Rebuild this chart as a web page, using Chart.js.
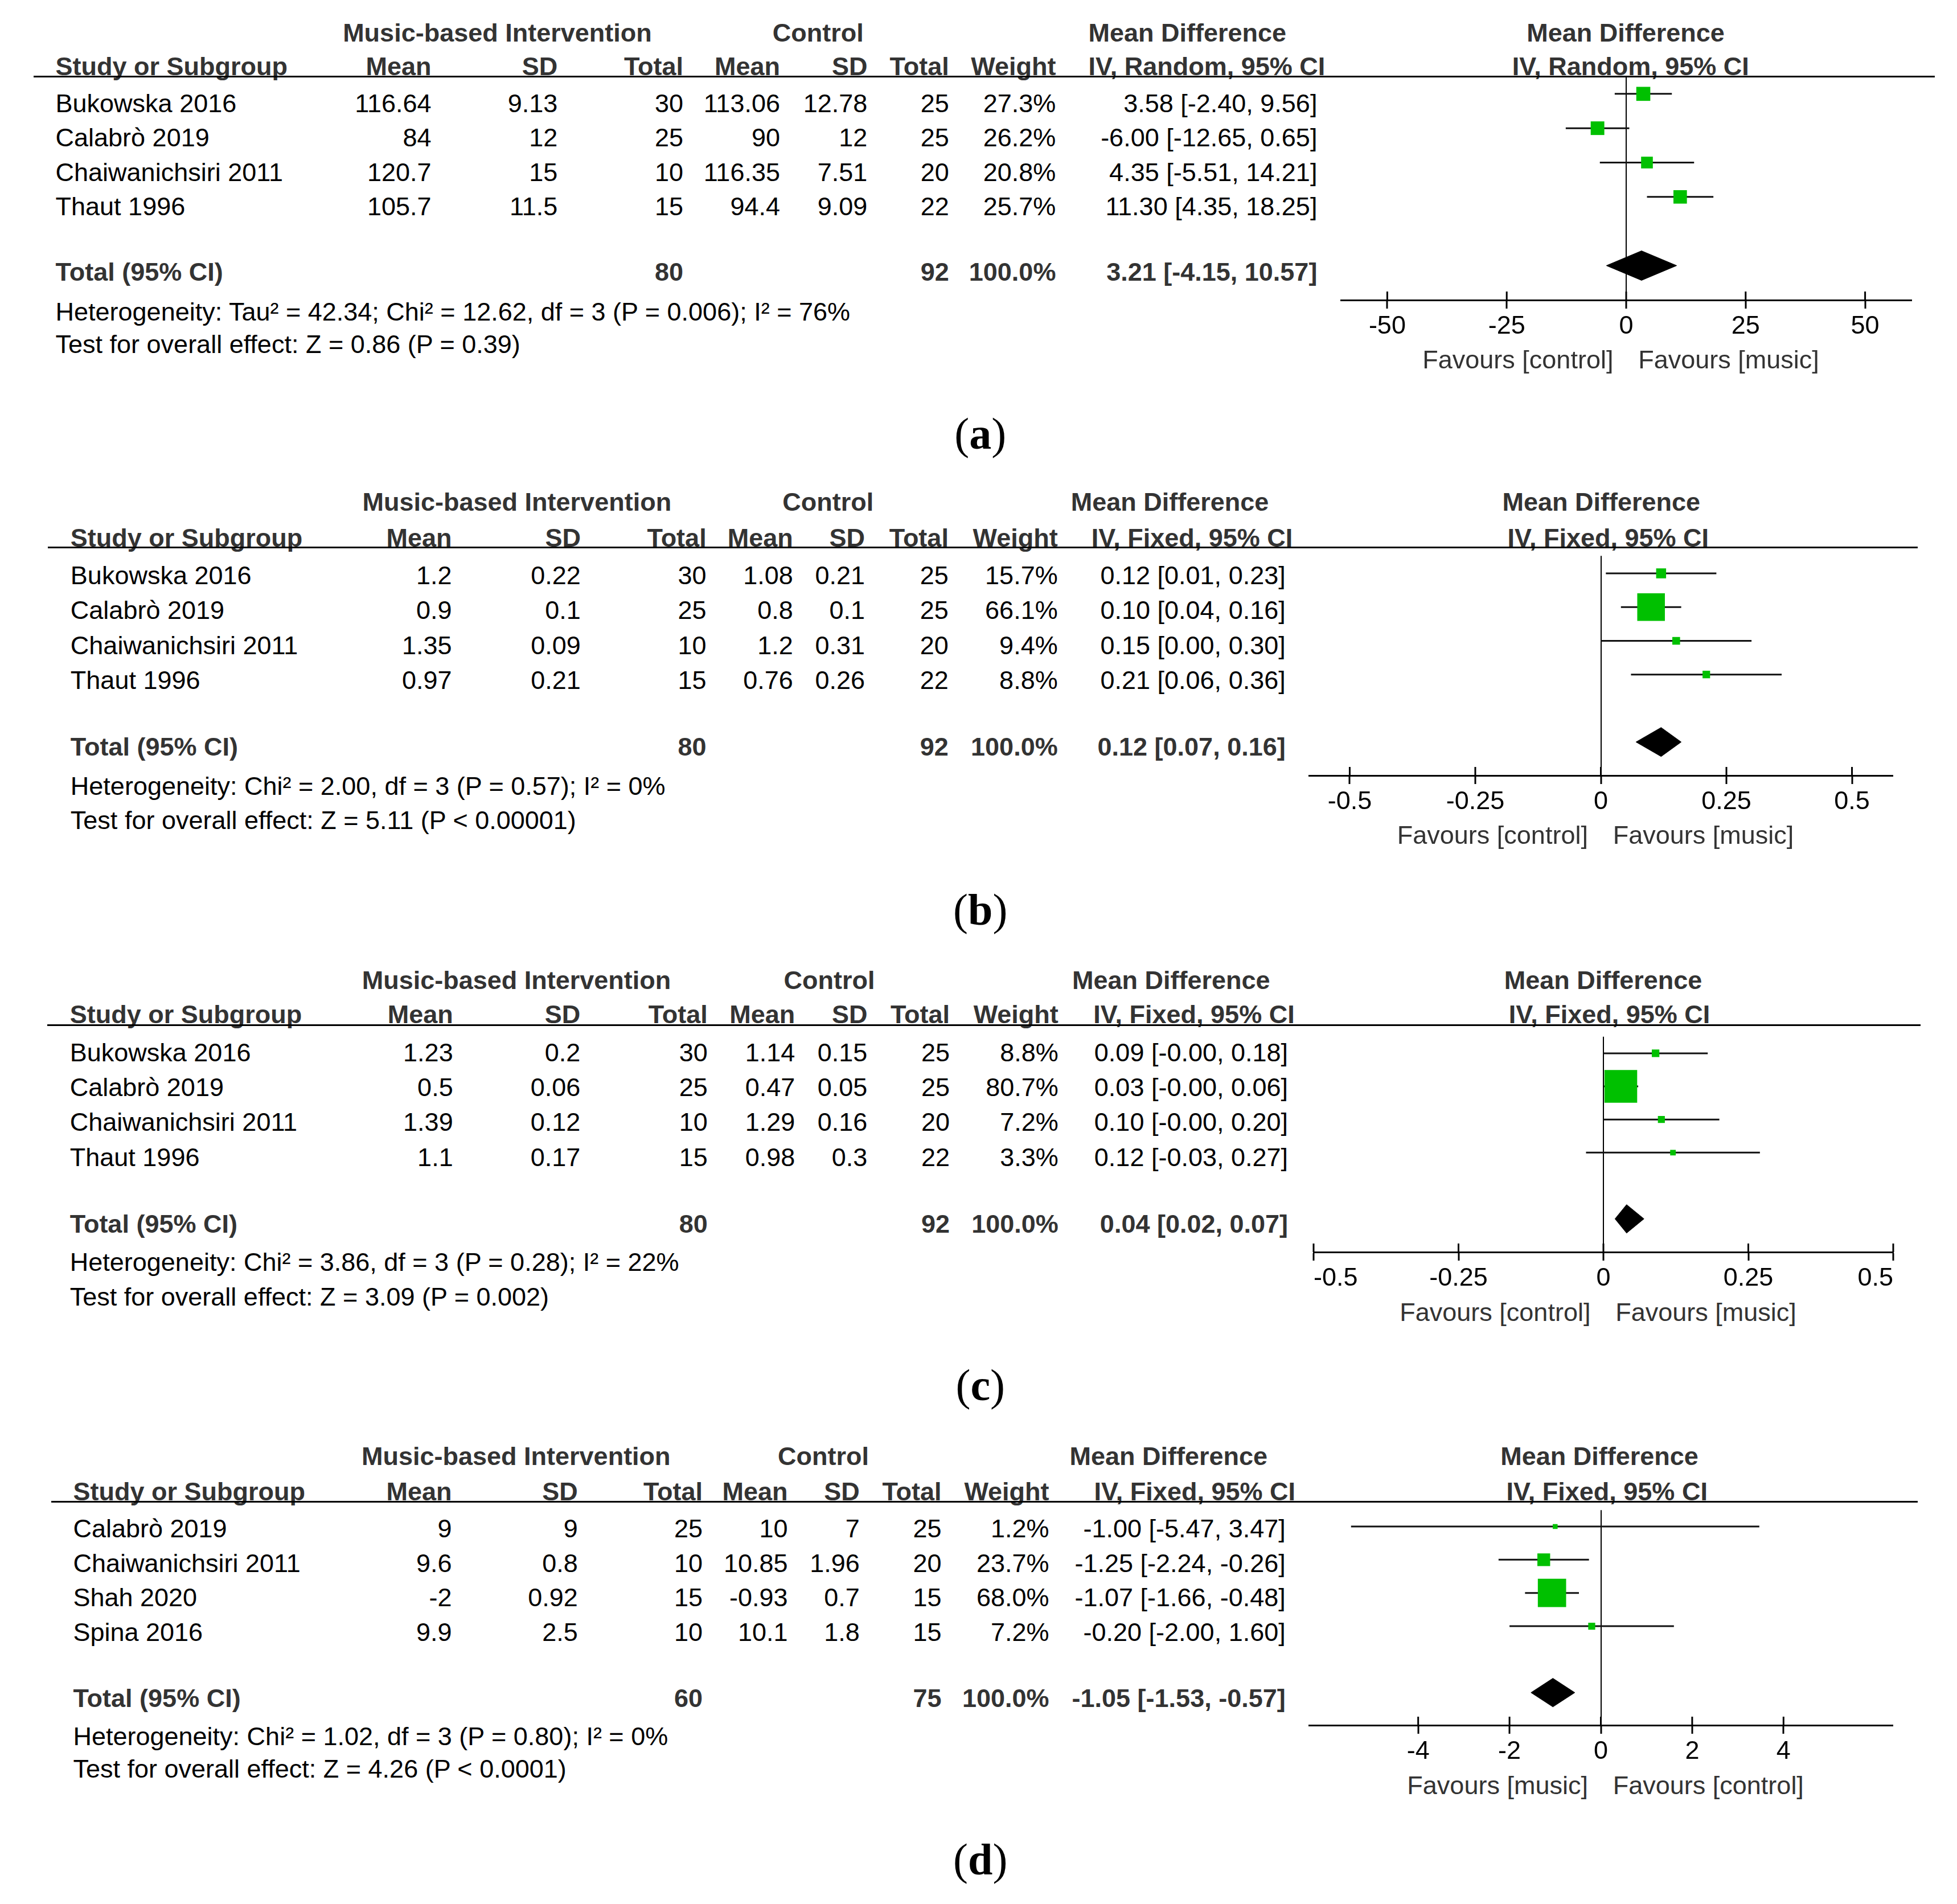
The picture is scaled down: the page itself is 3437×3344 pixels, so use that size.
<!DOCTYPE html>
<html>
<head>
<meta charset="utf-8">
<script src="https://cdn.jsdelivr.net/npm/chart.js@4.4.1/dist/chart.umd.min.js"></script>
<style>
  body { margin: 0; background: #fff; }
  #page { position: relative; width: 3437px; height: 3344px; overflow: hidden; background: #fff; }
  .t { position: absolute; white-space: nowrap; font-family: "Liberation Sans", Arial, sans-serif;
       font-size: 45px; line-height: 45px; color: #000; }
  .b { font-weight: bold; color: #333; }
  .g { color: #333; }
  .rule { position: absolute; height: 3px; background: #000; }
  .lab { position: absolute; white-space: nowrap; font-family: "Liberation Serif", "Times New Roman", serif;
         font-size: 78px; line-height: 78px; color: #000; }
  canvas { position: absolute; }
</style>
</head>
<body>
<div id="page"></div>
<script>
// ---- panel (a) ----
const studiesA = ['Bukowska 2016', 'Calabrò 2019', 'Chaiwanichsiri 2011', 'Thaut 1996'];
const musicMeanA = [116.64, 84, 120.7, 105.7];
const musicSdA = [9.13, 12, 15, 11.5];
const musicNA = [30, 25, 10, 15];
const ctrlMeanA = [113.06, 90, 116.35, 94.4];
const ctrlSdA = [12.78, 12, 7.51, 9.09];
const ctrlNA = [25, 25, 20, 22];
const weightA = [27.3, 26.2, 20.8, 25.7];
const mdA = [3.58, -6.00, 4.35, 11.30];
const loA = [-2.40, -12.65, -5.51, 4.35];
const hiA = [9.56, 0.65, 14.21, 18.25];
const totalNA = [80, 92];
const totalMdA = [3.21, -4.15, 10.57];
const ticksA = [-50, -25, 0, 25, 50];
const favoursA = ['Favours [control]', 'Favours [music]'];
const methodA = 'IV, Random, 95% CI';
const hetA = 'Heterogeneity: Tau² = 42.34; Chi² = 12.62, df = 3 (P = 0.006); I² = 76%';
const testA = 'Test for overall effect: Z = 0.86 (P = 0.39)';

// ---- panel (b) ----
const studiesB = ['Bukowska 2016', 'Calabrò 2019', 'Chaiwanichsiri 2011', 'Thaut 1996'];
const musicMeanB = [1.2, 0.9, 1.35, 0.97];
const musicSdB = [0.22, 0.1, 0.09, 0.21];
const musicNB = [30, 25, 10, 15];
const ctrlMeanB = [1.08, 0.8, 1.2, 0.76];
const ctrlSdB = [0.21, 0.1, 0.31, 0.26];
const ctrlNB = [25, 25, 20, 22];
const weightB = [15.7, 66.1, 9.4, 8.8];
const mdB = [0.12, 0.10, 0.15, 0.21];
const loB = [0.01, 0.04, 0.00, 0.06];
const hiB = [0.23, 0.16, 0.30, 0.36];
const totalNB = [80, 92];
const totalMdB = [0.12, 0.07, 0.16];
const ticksB = [-0.5, -0.25, 0, 0.25, 0.5];
const favoursB = ['Favours [control]', 'Favours [music]'];
const methodB = 'IV, Fixed, 95% CI';
const hetB = 'Heterogeneity: Chi² = 2.00, df = 3 (P = 0.57); I² = 0%';
const testB = 'Test for overall effect: Z = 5.11 (P < 0.00001)';

// ---- panel (c) ----
const studiesC = ['Bukowska 2016', 'Calabrò 2019', 'Chaiwanichsiri 2011', 'Thaut 1996'];
const musicMeanC = [1.23, 0.5, 1.39, 1.1];
const musicSdC = [0.2, 0.06, 0.12, 0.17];
const musicNC = [30, 25, 10, 15];
const ctrlMeanC = [1.14, 0.47, 1.29, 0.98];
const ctrlSdC = [0.15, 0.05, 0.16, 0.3];
const ctrlNC = [25, 25, 20, 22];
const weightC = [8.8, 80.7, 7.2, 3.3];
const mdC = [0.09, 0.03, 0.10, 0.12];
const loC = [-0.00, -0.00, -0.00, -0.03];
const hiC = [0.18, 0.06, 0.20, 0.27];
const totalNC = [80, 92];
const totalMdC = [0.04, 0.02, 0.07];
const ticksC = [-0.5, -0.25, 0, 0.25, 0.5];
const favoursC = ['Favours [control]', 'Favours [music]'];
const methodC = 'IV, Fixed, 95% CI';
const hetC = 'Heterogeneity: Chi² = 3.86, df = 3 (P = 0.28); I² = 22%';
const testC = 'Test for overall effect: Z = 3.09 (P = 0.002)';

// ---- panel (d) ----
const studiesD = ['Calabrò 2019', 'Chaiwanichsiri 2011', 'Shah 2020', 'Spina 2016'];
const musicMeanD = [9, 9.6, -2, 9.9];
const musicSdD = [9, 0.8, 0.92, 2.5];
const musicND = [25, 10, 15, 10];
const ctrlMeanD = [10, 10.85, -0.93, 10.1];
const ctrlSdD = [7, 1.96, 0.7, 1.8];
const ctrlND = [25, 20, 15, 15];
const weightD = [1.2, 23.7, 68.0, 7.2];
const mdD = [-1.00, -1.25, -1.07, -0.20];
const loD = [-5.47, -2.24, -1.66, -2.00];
const hiD = [3.47, -0.26, -0.48, 1.60];
const totalND = [60, 75];
const totalMdD = [-1.05, -1.53, -0.57];
const ticksD = [-4, -2, 0, 2, 4];
const favoursD = ['Favours [music]', 'Favours [control]'];
const methodD = 'IV, Fixed, 95% CI';
const hetD = 'Heterogeneity: Chi² = 1.02, df = 3 (P = 0.80); I² = 0%';
const testD = 'Test for overall effect: Z = 4.26 (P < 0.0001)';

const panels = [
    { label: 'a', studies: studiesA, musicMean: musicMeanA, musicSd: musicSdA, musicN: musicNA,
      ctrlMean: ctrlMeanA, ctrlSd: ctrlSdA, ctrlN: ctrlNA, weight: weightA, md: mdA, lo: loA, hi: hiA,
      totalN: totalNA, totalMd: totalMdA, ticks: ticksA, favours: favoursA, method: methodA, het: hetA, test: testA },
    { label: 'b', studies: studiesB, musicMean: musicMeanB, musicSd: musicSdB, musicN: musicNB,
      ctrlMean: ctrlMeanB, ctrlSd: ctrlSdB, ctrlN: ctrlNB, weight: weightB, md: mdB, lo: loB, hi: hiB,
      totalN: totalNB, totalMd: totalMdB, ticks: ticksB, favours: favoursB, method: methodB, het: hetB, test: testB },
    { label: 'c', studies: studiesC, musicMean: musicMeanC, musicSd: musicSdC, musicN: musicNC,
      ctrlMean: ctrlMeanC, ctrlSd: ctrlSdC, ctrlN: ctrlNC, weight: weightC, md: mdC, lo: loC, hi: hiC,
      totalN: totalNC, totalMd: totalMdC, ticks: ticksC, favours: favoursC, method: methodC, het: hetC, test: testC },
    { label: 'd', studies: studiesD, musicMean: musicMeanD, musicSd: musicSdD, musicN: musicND,
      ctrlMean: ctrlMeanD, ctrlSd: ctrlSdD, ctrlN: ctrlND, weight: weightD, md: mdD, lo: loD, hi: hiD,
      totalN: totalND, totalMd: totalMdD, ticks: ticksD, favours: favoursD, method: methodD, het: hetD, test: testD }
];

// Layout, in units of a 1568 px wide sheet (scaled by S)
const S = 3437 / 1568;
const FS = 45;
const TOTAL_ROW = 5;
const GREEN = '#00c000';

const layouts = [
    { hl: 61.5, r0: 75.1, gap: 27.5, ay: 240.2, h1: 26, h2: 53, het: 249.5, test: 275.7, label: 351,
      ruleL: 26.8, ruleR: 1550, axis: { al: 1074.2, ar: 1531.2, min: -59.7, max: 59.7, align: 'center' },
      cols: { name: 44.5, mean: 345.6, sd: 446.8, n: 547.5, cmean: 625, csd: 695, cn: 760.4, w: 846, ci: 1055.4,
              mbi: 274.7, ctl: 619, mdh: 872, ivh: 872, fmd: 1302.5, fiv: 1306.5 } },
    { hl: 438.8, r0: 453.3, gap: 28, ay: 621.1, h1: 402, h2: 430.6, het: 629.4, test: 657, label: 732.5,
      ruleL: 38.4, ruleR: 1536.5, axis: { al: 1049, ar: 1516.7, min: -0.581, max: 0.581, align: 'center' },
      cols: { name: 56.5, mean: 362, sd: 465.3, n: 566, cmean: 635.4, csd: 693, cn: 760, w: 847.5, ci: 1030,
              mbi: 290.4, ctl: 627, mdh: 858, ivh: 874.5, fmd: 1283, fiv: 1288.5 } },
    { hl: 821.3, r0: 835.4, gap: 28, ay: 1003.5, h1: 785, h2: 812.5, het: 1011, test: 1039, label: 1113.5,
      ruleL: 38, ruleR: 1538.8, axis: { al: 1052.6, ar: 1517, min: -0.5, max: 0.5, align: 'inner' },
      cols: { name: 56, mean: 363, sd: 465, n: 567, cmean: 637, csd: 695, cn: 761, w: 848, ci: 1032,
              mbi: 290, ctl: 628, mdh: 859, ivh: 876, fmd: 1284.5, fiv: 1289.5 } },
    { hl: 1203.2, r0: 1216.9, gap: 27.7, ay: 1382.6, h1: 1166.5, h2: 1195, het: 1391, test: 1417, label: 1493.5,
      ruleL: 41, ruleR: 1536.5, axis: { al: 1049, ar: 1516.7, min: -6.39, max: 6.39, align: 'center' },
      cols: { name: 58.6, mean: 362, sd: 463, n: 563, cmean: 631.2, csd: 688.8, cn: 754.4, w: 840.6, ci: 1030,
              mbi: 289.7, ctl: 623.2, mdh: 857, ivh: 876.6, fmd: 1281.5, fiv: 1287.5 } }
];

const page = document.getElementById('page');

function put(str, x, y, align, cls) {
    const el = document.createElement('div');
    el.className = 't' + (cls ? ' ' + cls : '');
    el.textContent = str;
    el.style.left = (x * S) + 'px';
    el.style.top = (y * S - 0.4885 * FS) + 'px';
    if (align === 'right') el.style.transform = 'translateX(-100%)';
    if (align === 'center') el.style.transform = 'translateX(-50%)';
    page.appendChild(el);
    return el;
}

function fmt2(v) {
    const neg = v < 0 || Object.is(v, -0);
    return (neg ? '-' : '') + Math.abs(v).toFixed(2);
}

function ciText(md, lo, hi) {
    return fmt2(md) + ' [' + fmt2(lo) + ', ' + fmt2(hi) + ']';
}

// box side grows with the study weight
function boxSide(w) {
    return 7.8 + 0.616 * w;
}

// draws the upper half of the axis ticks (RevMan ticks cross the axis)
const upTicks = {
    id: 'upTicks',
    afterDraw(chart) {
        const xs = chart.scales.x;
        const ctx = chart.ctx;
        const y = chart.chartArea.bottom;
        ctx.save();
        ctx.strokeStyle = '#000';
        ctx.lineWidth = 3;
        xs.ticks.forEach(t => {
            const px = xs.getPixelForValue(t.value);
            ctx.beginPath();
            ctx.moveTo(px, y - 15);
            ctx.lineTo(px, y);
            ctx.stroke();
        });
        ctx.restore();
    }
};

function drawForest(p, L) {
    const PADX = 70, PADT = 20, AXIS_H = 80;
    const ax = L.axis;
    const left = Math.round(ax.al * S - PADX);
    const top = Math.round(L.hl * S - PADT);
    const w = Math.round((ax.ar - ax.al) * S + 2 * PADX);
    const h = Math.round((L.ay - L.hl) * S + PADT + AXIS_H);

    const canvas = document.createElement('canvas');
    canvas.width = w;
    canvas.height = h;
    canvas.style.left = left + 'px';
    canvas.style.top = top + 'px';
    canvas.style.width = w + 'px';
    canvas.style.height = h + 'px';
    page.appendChild(canvas);

    const datasets = [];
    // study boxes (first = drawn on top)
    datasets.push({
        data: p.md.map((v, i) => ({ x: v, y: i })),
        pointStyle: 'rect',
        pointRadius: c => c.dataIndex === undefined ? 0 : boxSide(p.weight[c.dataIndex]) / Math.SQRT2,
        backgroundColor: GREEN,
        borderWidth: 0,
        pointBorderWidth: 0
    });
    // pooled diamond
    const dh = 0.43;
    const [tm, tl, th] = p.totalMd;
    datasets.push({
        type: 'line',
        data: [{ x: tl, y: TOTAL_ROW }, { x: tm, y: TOTAL_ROW - dh }, { x: th, y: TOTAL_ROW },
               { x: tm, y: TOTAL_ROW + dh }, { x: tl, y: TOTAL_ROW }],
        fill: 'shape',
        backgroundColor: '#000',
        borderColor: '#000',
        borderWidth: 1,
        pointRadius: 0,
        tension: 0
    });
    // confidence intervals
    p.lo.forEach((lo, i) => {
        datasets.push({
            type: 'line',
            data: [{ x: lo, y: i }, { x: p.hi[i], y: i }],
            borderColor: '#111',
            borderWidth: 3,
            pointRadius: 0,
            fill: false
        });
    });

    const chart = new Chart(canvas, {
        type: 'scatter',
        data: { datasets: datasets },
        options: {
            responsive: false,
            animation: false,
            events: [],
            layout: { padding: { left: PADX, right: PADX, top: PADT, bottom: 0 } },
            plugins: { legend: { display: false }, tooltip: { enabled: false } },
            scales: {
                x: {
                    type: 'linear',
                    min: ax.min,
                    max: ax.max,
                    afterBuildTicks: s => { s.ticks = p.ticks.map(v => ({ value: v })); },
                    afterFit: s => { s.height = AXIS_H; },
                    grid: {
                        drawOnChartArea: true,
                        color: c => (c.tick && c.tick.value === 0) ? '#000' : 'rgba(0,0,0,0)',
                        lineWidth: 2,
                        tickColor: '#000',
                        tickWidth: 3,
                        tickLength: 15
                    },
                    border: { display: true, color: '#000', width: 3 },
                    ticks: {
                        autoSkip: false,
                        maxRotation: 0,
                        minRotation: 0,
                        align: ax.align,
                        padding: 5,
                        color: '#000',
                        font: { family: '"Liberation Sans", Arial, sans-serif', size: 45, lineHeight: 1.2 },
                        callback: v => String(v)
                    }
                },
                y: {
                    display: false,
                    reverse: true,
                    min: (L.hl - L.r0) / L.gap,
                    max: (L.ay - L.r0) / L.gap
                }
            }
        },
        plugins: [upTicks]
    });

    // favours labels either side of the zero line
    const zero = (left + chart.scales.x.getPixelForValue(0)) / S;
    put(p.favours[0], zero - 10.3, L.ay + 47.5, 'right', 'g');
    put(p.favours[1], zero + 9.7, L.ay + 47.5, 'left', 'g');
}

panels.forEach((p, k) => {
    const L = layouts[k];
    const c = L.cols;

    // header rows
    put('Music-based Intervention', c.mbi, L.h1, 'left', 'b');
    put('Control', c.ctl, L.h1, 'left', 'b');
    put('Mean Difference', c.mdh, L.h1, 'left', 'b');
    put('Mean Difference', c.fmd, L.h1, 'center', 'b');
    put('Study or Subgroup', c.name, L.h2, 'left', 'b');
    put('Mean', c.mean, L.h2, 'right', 'b');
    put('SD', c.sd, L.h2, 'right', 'b');
    put('Total', c.n, L.h2, 'right', 'b');
    put('Mean', c.cmean, L.h2, 'right', 'b');
    put('SD', c.csd, L.h2, 'right', 'b');
    put('Total', c.cn, L.h2, 'right', 'b');
    put('Weight', c.w, L.h2, 'right', 'b');
    put(p.method, c.ivh, L.h2, 'left', 'b');
    put(p.method, c.fiv, L.h2, 'center', 'b');

    const rule = document.createElement('div');
    rule.className = 'rule';
    rule.style.left = (L.ruleL * S) + 'px';
    rule.style.width = ((L.ruleR - L.ruleL) * S) + 'px';
    rule.style.top = (L.hl * S - 1.5) + 'px';
    page.appendChild(rule);

    // study rows
    p.studies.forEach((s, i) => {
        const y = L.r0 + L.gap * i + 7.5;
        put(s, c.name, y, 'left');
        put(String(p.musicMean[i]), c.mean, y, 'right');
        put(String(p.musicSd[i]), c.sd, y, 'right');
        put(String(p.musicN[i]), c.n, y, 'right');
        put(String(p.ctrlMean[i]), c.cmean, y, 'right');
        put(String(p.ctrlSd[i]), c.csd, y, 'right');
        put(String(p.ctrlN[i]), c.cn, y, 'right');
        put(p.weight[i].toFixed(1) + '%', c.w, y, 'right');
        put(ciText(p.md[i], p.lo[i], p.hi[i]), c.ci, y, 'right');
    });

    // total row
    const ty = L.r0 + L.gap * TOTAL_ROW + 5;
    put('Total (95% CI)', c.name, ty, 'left', 'b');
    put(String(p.totalN[0]), c.n, ty, 'right', 'b');
    put(String(p.totalN[1]), c.cn, ty, 'right', 'b');
    put('100.0%', c.w, ty, 'right', 'b');
    put(ciText(p.totalMd[0], p.totalMd[1], p.totalMd[2]), c.ci, ty, 'right', 'b');
    put(p.het, c.name, L.het, 'left');
    put(p.test, c.name, L.test, 'left');

    drawForest(p, L);

    const lab = document.createElement('div');
    lab.className = 'lab';
    lab.innerHTML = '(<b>' + p.label + '</b>)';
    lab.style.left = (785.5 * S) + 'px';
    lab.style.top = (L.label * S - 0.5985 * 78) + 'px';
    lab.style.transform = 'translateX(-50%)';
    page.appendChild(lab);
});
</script>
</body>
</html>
